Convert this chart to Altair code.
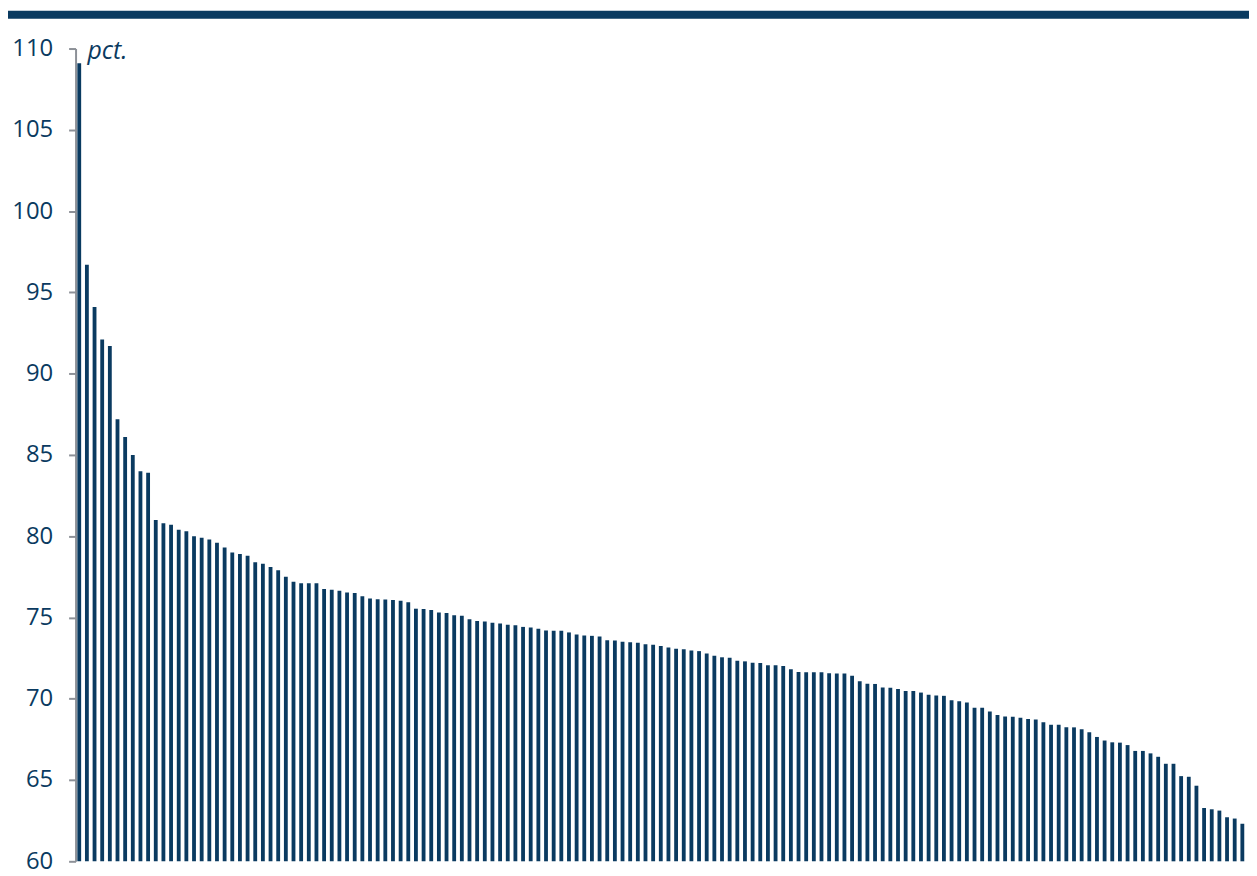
import altair as alt
import pandas as pd

# Values (pct.), sorted descending, one bar per unit
values = [
    109.1, 96.7, 94.1, 92.1, 91.7, 87.2, 86.1, 85.0, 84.0, 83.9,
    81.0, 80.8, 80.7, 80.4, 80.3, 80.0, 79.9, 79.8, 79.6, 79.3,
    79.0, 78.9, 78.8, 78.4, 78.3, 78.1, 77.9, 77.5, 77.2, 77.1,
    77.1, 77.1, 76.75, 76.7, 76.65, 76.54, 76.5, 76.3, 76.16, 76.12,
    76.1, 76.08, 76.03, 75.93, 75.54, 75.52, 75.46, 75.3, 75.28, 75.14,
    75.1, 74.89, 74.79, 74.75, 74.67, 74.63, 74.55, 74.52, 74.42, 74.38,
    74.3, 74.2, 74.18, 74.18, 74.08, 73.95, 73.89, 73.87, 73.83, 73.6,
    73.58, 73.5, 73.48, 73.44, 73.36, 73.32, 73.24, 73.16, 73.08, 73.04,
    72.97, 72.93, 72.79, 72.65, 72.55, 72.53, 72.34, 72.3, 72.22, 72.2,
    72.06, 72.06, 72.02, 71.81, 71.65, 71.63, 71.63, 71.63, 71.57, 71.55,
    71.55, 71.42, 71.08, 70.93, 70.91, 70.69, 70.67, 70.6, 70.47, 70.47,
    70.38, 70.24, 70.2, 70.18, 69.91, 69.85, 69.77, 69.44, 69.44, 69.22,
    69.0, 68.91, 68.89, 68.83, 68.75, 68.73, 68.55, 68.4, 68.4, 68.24,
    68.24, 68.12, 67.94, 67.65, 67.43, 67.32, 67.3, 67.15, 66.79, 66.79,
    66.64, 66.43, 66.0, 66.0, 65.24, 65.2, 64.65, 63.28, 63.2, 63.12,
    62.71, 62.63, 62.31,
]
categories = [str(i + 1) for i in range(len(values))]
y_ticks = [60, 65, 70, 75, 80, 85, 90, 95, 100, 105, 110]
unit_label = ["pct."]

NAVY = "#0a3a60"
GRAY = "#8c9097"
FONT = "Open Sans"

df = pd.DataFrame({"cat": categories, "value": values})

W, H = 1178, 818

bars = alt.Chart(df).mark_bar(color=NAVY).encode(
    x=alt.X("cat:N", sort=categories, axis=None,
            scale=alt.Scale(paddingInner=0.5, paddingOuter=0.23)),
    y=alt.Y("value:Q",
            scale=alt.Scale(domain=[60, 110], zero=False, nice=False),
            axis=alt.Axis(values=y_ticks, title=None, grid=False,
                          labelFont=FONT, labelFontSize=24, labelColor=NAVY,
                          labelPadding=16, tickSize=7, tickWidth=2,
                          tickColor=GRAY, domainColor=GRAY, domainWidth=2)),
    y2=alt.datum(60),
)

band = alt.Chart(pd.DataFrame({"k": [0]})).mark_rect(color=NAVY).encode(
    x=alt.value(-68), x2=alt.value(W + 3), y=alt.value(-38), y2=alt.value(-30)
)

unit = alt.Chart(pd.DataFrame({"t": unit_label})).mark_text(
    align="left", baseline="alphabetic", font=FONT, fontSize=25,
    fontStyle="italic", color=NAVY
).encode(text="t:N", x=alt.value(12), y=alt.value(11))

chart = alt.layer(bars, band, unit).properties(
    width=W, height=H,
    autosize=alt.AutoSizeParams(type="none"),
    padding={"left": 68, "top": 38, "right": 3, "bottom": 14},
    background="white",
).configure_view(stroke=None)

chart.save("out.html", embed_options={"renderer": "svg", "actions": False})
